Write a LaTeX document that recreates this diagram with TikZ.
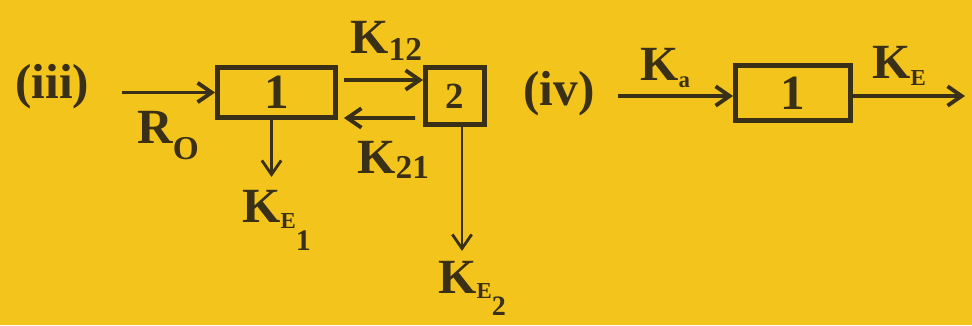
\documentclass[tikz,border=0pt]{standalone}
\usepackage{fontspec}
\setmainfont{Liberation Serif}
\usepackage{tikz}
\usetikzlibrary{positioning, arrows.meta}
\definecolor{Page_Yellow}{HTML}{F3C51C}
\definecolor{Ink_Brown}{HTML}{3A2F17}
\newcommand{\ratesub}[3]{\raisebox{-#1}{\fontsize{#2}{#2}\selectfont #3}}

\begin{document}
\begin{tikzpicture}[x=0.02cm, y=-0.02cm,
    every node/.style={font=\fontsize{28}{32}\selectfont\bfseries, text=Ink_Brown, inner sep=0pt},
    compbox/.style={draw=Ink_Brown, line width=2.8pt},
    flow/.style={-{Straight Barb[length=8pt, width=11pt]}, line width=2.2pt, draw=Ink_Brown},
    drop/.style={flow, line width=1.6pt}]
  % Page
  \path[use as bounding box, fill=Page_Yellow] (0,0) rectangle (972,325);
  % Model (iii): two compartments
  \node[anchor=base west] (labIII) at (15,98) {(iii)};
  \node[compbox, minimum width=2.36cm, minimum height=1.0cm] (boxA) at (276.5,92.5) {1};
  \node[compbox, minimum width=1.18cm, minimum height=1.14cm,
        font=\fontsize{21}{24}\selectfont\bfseries] (boxB) at (455,96) {2};
  % Input and exchange arrows
  \coordinate (roStart) at (122,92.5);
  \coordinate (k12Start) at ([shift={(6,-12.5)}]boxA.east);
  \coordinate (k21End) at ([shift={(6,25.5)}]boxA.east);
  \coordinate (ke1End) at ([shift={(-5,57)}]boxA.south);
  \coordinate (ke2End) at ([shift={(7,124)}]boxB.south);
  \draw[flow] (roStart) -- (boxA.west);
  \draw[flow] (k12Start) -- (k12Start -| boxB.west);
  \draw[flow] ([shift={(-8,22)}]boxB.west) -- (k21End);
  \draw[drop] (ke1End |- boxA.south) -- (ke1End);
  \draw[drop] (ke2End |- boxB.south) -- (ke2End);
  % Rate labels
  \node[anchor=base west] (labRo) at (137,143) {R\ratesub{9.5pt}{19}{O}};
  \node[anchor=base west] (labK12) at (350,53) {K\ratesub{4pt}{19}{12}};
  \node[anchor=base west] (labK21) at (357,173) {K\ratesub{3pt}{19}{21}};
  \node[anchor=base west] (labKE1) at (242,222) {K\ratesub{3.5pt}{13}{E}\ratesub{16pt}{17}{1}};
  \node[anchor=base west] (labKE2) at (438,293) {K\ratesub{3pt}{13}{E}\ratesub{13pt}{16}{2}};
  % Model (iv): one compartment
  \node[anchor=base west] (labIV) at (523,105) {(iv)};
  \node[compbox, minimum width=2.3cm, minimum height=1.1cm] (boxC) at (793,93) {1};
  \coordinate (kaStart) at (618,96);
  \coordinate (keEnd) at (965,96);
  \draw[flow] (kaStart) -- (kaStart -| boxC.west);
  \draw[flow] (keEnd -| boxC.east) -- (keEnd);
  \node[anchor=base west] (labKa) at (640,80) {K\ratesub{4pt}{13}{a}};
  \node[anchor=base west] (labKE) at (872,78) {K\ratesub{4pt}{13}{E}};
\end{tikzpicture}
\end{document}
